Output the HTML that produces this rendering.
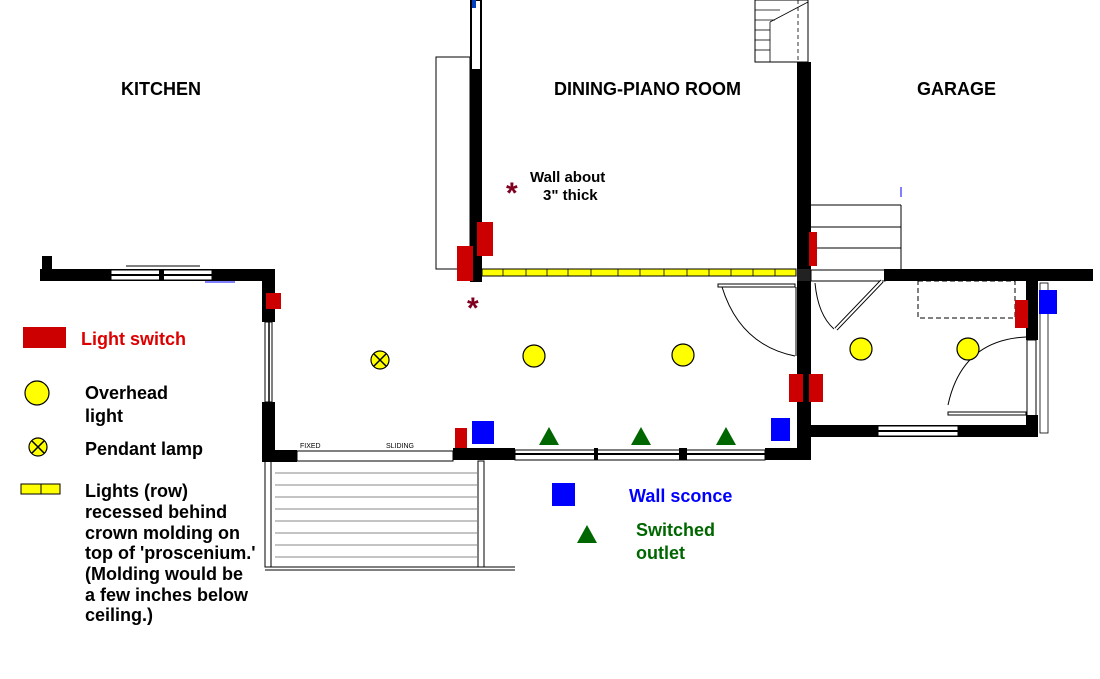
<!DOCTYPE html>
<html><head><style>
html,body{margin:0;padding:0;background:#fff;}
svg{display:block;font-family:"Liberation Sans",Arial,sans-serif;}
</style></head><body>
<svg width="1100" height="679" viewBox="0 0 1100 679" xmlns="http://www.w3.org/2000/svg">
<!-- room labels -->
<g font-weight="bold" font-size="18" fill="#000">
<text x="121" y="95">KITCHEN</text>
<text x="554" y="95">DINING-PIANO ROOM</text>
<text x="917" y="95">GARAGE</text>
</g>

<!-- kitchen top wall -->
<rect x="42" y="256" width="10" height="14" fill="#000"/>
<rect x="40" y="269" width="235" height="12" fill="#000"/>
<rect x="111" y="270" width="101" height="10" fill="#fff" stroke="#000" stroke-width="1"/>
<line x1="111" y1="275" x2="212" y2="275" stroke="#000" stroke-width="2"/>
<rect x="159" y="270" width="5" height="10" fill="#000"/>
<line x1="126" y1="266" x2="200" y2="266" stroke="#000" stroke-width="1"/>
<line x1="205" y1="282" x2="235" y2="282" stroke="#00f" stroke-width="1"/>
<!-- kitchen right wall -->
<rect x="262" y="269" width="13" height="53" fill="#000"/>
<rect x="265" y="322" width="7" height="80" fill="#fff" stroke="#000" stroke-width="1"/>
<line x1="269" y1="322" x2="269" y2="402" stroke="#000" stroke-width="1.5"/>
<rect x="262" y="402" width="13" height="58" fill="#000"/>
<!-- bottom wall -->
<rect x="262" y="450" width="35" height="12" fill="#000"/>
<rect x="297" y="451" width="156" height="10" fill="#fff" stroke="#000" stroke-width="1"/>
<text x="300" y="448" font-size="7">FIXED</text>
<text x="386" y="448" font-size="7">SLIDING</text>
<rect x="453" y="448" width="62" height="12" fill="#000"/>
<rect x="515" y="450" width="250" height="10" fill="#fff" stroke="#000" stroke-width="1"/>
<line x1="515" y1="454" x2="765" y2="454" stroke="#000" stroke-width="2"/>
<rect x="594" y="448" width="4" height="12" fill="#000"/>
<rect x="679" y="448" width="8" height="12" fill="#000"/>
<rect x="765" y="448" width="46" height="12" fill="#000"/>
<!-- deck -->
<g stroke="#000" fill="none">
<rect x="265" y="461" width="6" height="106"/>
<rect x="478" y="461" width="6" height="106"/>
<line x1="265" y1="567" x2="515" y2="567"/>
<line x1="265" y1="570" x2="515" y2="570"/>
</g>
<g stroke="#888" stroke-width="1">
<line x1="275" y1="473" x2="477" y2="473"/><line x1="275" y1="485" x2="477" y2="485"/>
<line x1="275" y1="497" x2="477" y2="497"/><line x1="275" y1="509" x2="477" y2="509"/>
<line x1="275" y1="521" x2="477" y2="521"/><line x1="275" y1="533" x2="477" y2="533"/>
<line x1="275" y1="545" x2="477" y2="545"/><line x1="275" y1="557" x2="477" y2="557"/>
</g>
<!-- dining left wall -->
<rect x="436" y="57" width="34" height="212" fill="#fff" stroke="#000" stroke-width="1"/>
<rect x="471" y="0" width="10" height="70" fill="#fff" stroke="#000" stroke-width="2"/>
<rect x="472" y="0" width="4" height="8" fill="#0040c0"/>
<rect x="470" y="70" width="12" height="212" fill="#000"/>
<rect x="457" y="246" width="16" height="35" fill="#c00"/>
<rect x="477" y="222" width="16" height="34" fill="#c00"/>
<!-- yellow row -->
<rect x="482" y="269" width="314" height="7" fill="#ff0" stroke="#000" stroke-width="1"/>
<g stroke="#000" stroke-width="0.8">
<line x1="503" y1="269" x2="503" y2="276"/><line x1="526" y1="269" x2="526" y2="276"/><line x1="547" y1="269" x2="547" y2="276"/>
<line x1="568" y1="269" x2="568" y2="276"/><line x1="591" y1="269" x2="591" y2="276"/><line x1="618" y1="269" x2="618" y2="276"/>
<line x1="640" y1="269" x2="640" y2="276"/><line x1="664" y1="269" x2="664" y2="276"/><line x1="687" y1="269" x2="687" y2="276"/>
<line x1="709" y1="269" x2="709" y2="276"/><line x1="731" y1="269" x2="731" y2="276"/><line x1="753" y1="269" x2="753" y2="276"/><line x1="775" y1="269" x2="775" y2="276"/>
</g>
<!-- brick stairs top -->
<rect x="755" y="0" width="53" height="62" fill="#fff" stroke="#000" stroke-width="1"/>
<g stroke="#000" stroke-width="0.8" fill="none">
<line x1="755" y1="10" x2="780" y2="10"/><line x1="755" y1="20" x2="775" y2="20"/><line x1="755" y1="30" x2="770" y2="30"/>
<line x1="755" y1="40" x2="770" y2="40"/><line x1="755" y1="50" x2="770" y2="50"/>
<line x1="770" y1="22" x2="770" y2="62"/><line x1="770" y1="22" x2="808" y2="2"/>
<line x1="798" y1="0" x2="798" y2="62" stroke-dasharray="4 3"/><line x1="808" y1="0" x2="808" y2="62" stroke-dasharray="4 3"/>
</g>
<!-- dining right wall -->
<rect x="797" y="62" width="14" height="398" fill="#000"/>
<rect x="797" y="269" width="14" height="12" fill="#222"/>
<!-- dining door -->
<rect x="718" y="284" width="77" height="3" fill="#fff" stroke="#000" stroke-width="1"/>
<path d="M722 287 Q740 345 795 356" stroke="#000" fill="none" stroke-width="1"/>
<line x1="796" y1="287" x2="796" y2="356" stroke="#000"/>
<rect x="789" y="374" width="14" height="28" fill="#c00"/>
<rect x="809" y="374" width="14" height="28" fill="#c00"/>
<!-- garage stairs -->
<g stroke="#000" stroke-width="1" fill="none">
<line x1="811" y1="205" x2="901" y2="205"/><line x1="811" y1="227" x2="901" y2="227"/>
<line x1="811" y1="248" x2="901" y2="248"/><line x1="901" y1="205" x2="901" y2="269"/>
</g>
<line x1="901" y1="187" x2="901" y2="197" stroke="#00f"/>
<rect x="809" y="232" width="8" height="34" fill="#c00"/>
<!-- garage walls -->
<rect x="811" y="270" width="74" height="11" fill="#fff" stroke="#000" stroke-width="1"/>
<rect x="884" y="269" width="209" height="12" fill="#000"/>
<line x1="882" y1="281" x2="836" y2="329" stroke="#000" stroke-width="4"/>
<line x1="882" y1="281" x2="836" y2="329" stroke="#fff" stroke-width="2"/>
<path d="M815 283 Q818 315 834 329" stroke="#000" fill="none"/>
<rect x="918" y="281" width="97" height="37" fill="none" stroke="#000" stroke-dasharray="5 3"/>
<rect x="1026" y="281" width="12" height="59" fill="#000"/>
<rect x="1027" y="340" width="9" height="80" fill="#fff" stroke="#000"/>
<rect x="1026" y="415" width="12" height="22" fill="#000"/>
<rect x="1040" y="283" width="8" height="150" fill="none" stroke="#000" stroke-width="0.8"/>
<rect x="1015" y="300" width="13" height="28" fill="#c00"/>
<rect x="1039" y="290" width="18" height="24" fill="#00f"/>
<path d="M1026 337 Q962 340 948 405" stroke="#000" fill="none"/>
<rect x="948" y="412" width="78" height="3" fill="#fff" stroke="#000"/>
<rect x="811" y="425" width="227" height="12" fill="#000"/>
<rect x="878" y="426" width="80" height="10" fill="#fff" stroke="#000"/>
<line x1="878" y1="431" x2="958" y2="431" stroke="#000" stroke-width="2"/>
<!-- lights -->
<g fill="#ff0" stroke="#000" stroke-width="1.2">
<circle cx="534" cy="356" r="11"/><circle cx="683" cy="355" r="11"/>
<circle cx="861" cy="349" r="11"/><circle cx="968" cy="349" r="11"/>
<circle cx="380" cy="360" r="9"/>
<circle cx="37" cy="393" r="12"/>
<circle cx="38" cy="447" r="9"/>
</g>
<g stroke="#000" stroke-width="1.5">
<line x1="374" y1="354" x2="386" y2="366"/><line x1="386" y1="354" x2="374" y2="366"/>
<line x1="32" y1="441" x2="44" y2="453"/><line x1="44" y1="441" x2="32" y2="453"/>
</g>
<!-- misc -->
<rect x="266" y="293" width="15" height="16" fill="#c00"/>
<rect x="455" y="428" width="12" height="20" fill="#c00"/>
<rect x="472" y="421" width="22" height="23" fill="#00f"/>
<rect x="771" y="418" width="19" height="23" fill="#00f"/>
<g fill="#060">
<polygon points="549,427 539,445 559,445"/><polygon points="641,427 631,445 651,445"/><polygon points="726,427 716,445 736,445"/>
<polygon points="587,525 577,543 597,543"/>
</g>
<g fill="#800020" font-weight="bold" font-size="30">
<text x="506" y="203">*</text><text x="467" y="318">*</text>
</g>
<g font-weight="bold" font-size="15" fill="#000">
<text x="530" y="182">Wall about</text><text x="543" y="200">3" thick</text>
</g>
<!-- legend -->
<rect x="23" y="327" width="43" height="21" fill="#c00"/>
<text x="81" y="345" font-size="18" font-weight="bold" fill="#d00">Light switch</text>
<g font-size="18" font-weight="bold" fill="#000">
<text x="85" y="399">Overhead</text><text x="85" y="422">light</text>
<text x="85" y="455">Pendant lamp</text>
<text x="85" y="497">Lights (row)</text>
<text x="85" y="518">recessed behind</text>
<text x="85" y="539">crown molding on</text>
<text x="85" y="559">top of 'proscenium.'</text>
<text x="85" y="580">(Molding would be</text>
<text x="85" y="601">a few inches below</text>
<text x="85" y="621">ceiling.)</text>
</g>
<rect x="21" y="484" width="39" height="10" fill="#ff0" stroke="#000"/>
<line x1="41" y1="484" x2="41" y2="494" stroke="#000"/>
<rect x="552" y="483" width="23" height="23" fill="#00f"/>
<text x="629" y="502" font-size="18" font-weight="bold" fill="#00f">Wall sconce</text>
<text x="636" y="536" font-size="18" font-weight="bold" fill="#060">Switched</text>
<text x="636" y="559" font-size="18" font-weight="bold" fill="#060">outlet</text>
</svg>
</body></html>
